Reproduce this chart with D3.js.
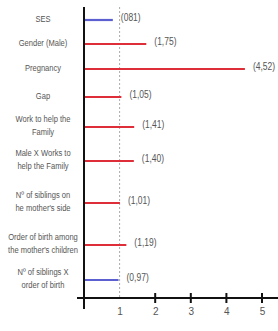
<!doctype html>
<html>
<head>
<script src="https://cdn.jsdelivr.net/npm/d3@7"></script>
<style>
  body { margin: 0; background: #fff; }
  svg { display: block; }
  text { font-family: "Liberation Sans", Arial, sans-serif; fill: #555; }
</style>
</head>
<body>
<svg width="278" height="331"></svg>
<script>
// predictors (labels split on "|" into lines)
var categories = ["SES", "Gender (Male)", "Pregnancy", "Gap", "Work to help the|Family",
  "Male X Works to|help the Family", "Nº of siblings on|he mother's side",
  "Order of birth among|the mother's children", "Nº of siblings X|order of birth"];
var oddsRatios = [0.81, 1.75, 4.52, 1.05, 1.41, 1.40, 1.01, 1.19, 0.97];
var valueLabels = ["(081)", "(1,75)", "(4,52)", "(1,05)", "(1,41)", "(1,40)", "(1,01)", "(1,19)", "(0,97)"];
var xTicks = [1, 2, 3, 4, 5];

var svg = d3.select("svg");

var x = d3.scaleLinear().domain([0, 5]).range([84, 262]);
// rows are not evenly spaced in the original
var y = d3.scaleOrdinal().domain(categories).range([20, 44, 69, 97, 127, 161, 203, 245, 280]);
var axisY = 298;

// reference line at 1
svg.append("line")
  .attr("x1", x(1)).attr("x2", x(1))
  .attr("y1", 7).attr("y2", axisY)
  .attr("stroke", "#aaa").attr("stroke-width", 1)
  .attr("stroke-dasharray", "2,2");

// bars
svg.selectAll("line.bar")
  .data(categories)
  .enter().append("line")
  .attr("class", "bar")
  .attr("x1", x(0))
  .attr("x2", (d, i) => x(oddsRatios[i]))
  .attr("y1", d => y(d)).attr("y2", d => y(d))
  .attr("stroke", (d, i) => oddsRatios[i] < 1 ? "#5b5fcf" : "#dd2e3a")
  .attr("stroke-width", 2.2);

// value labels (condensed look)
svg.selectAll("text.val")
  .data(categories)
  .enter().append("text")
  .attr("class", "val")
  .attr("transform", (d, i) => "translate(" + (x(oddsRatios[i]) + 8) + "," + (y(d) + 1) + ") scale(0.85,1)")
  .attr("font-size", 10)
  .text((d, i) => valueLabels[i]);

// category labels
var catG = svg.append("g").attr("transform", "translate(43,2) scale(0.84,1)");
catG.selectAll("text.cat")
  .data(categories)
  .enter().append("text")
  .attr("class", "cat")
  .attr("text-anchor", "middle")
  .attr("font-size", 9)
  .each(function(d) {
    var lines = d.split("|");
    var t = d3.select(this);
    var y0 = y(d) - (lines.length - 1) * 6.5;
    lines.forEach(function(l, k) {
      t.append("tspan").attr("x", 0).attr("y", y0 + k * 13).text(l);
    });
  });

// x axis
var xAxis = d3.axisBottom(x).tickValues(xTicks).tickSize(0).tickPadding(10).tickFormat(d3.format("d"));
var g = svg.append("g").attr("transform", "translate(0," + axisY + ")").call(xAxis);
g.select(".domain").remove();
g.selectAll("text").attr("font-size", 10).style("font-family", "Liberation Sans, sans-serif").attr("fill", "#555");
g.append("line").attr("x1", 77).attr("x2", 278).attr("stroke", "#111").attr("stroke-width", 2);
g.selectAll("line.tk")
  .data(xTicks.filter(v => v > 1))
  .enter().append("line").attr("class", "tk")
  .attr("x1", d => x(d)).attr("x2", d => x(d))
  .attr("y1", -5).attr("y2", 5)
  .attr("stroke", "#111").attr("stroke-width", 2);

// y axis
svg.append("line")
  .attr("x1", x(0)).attr("x2", x(0))
  .attr("y1", 7).attr("y2", 309)
  .attr("stroke", "#111").attr("stroke-width", 2);
</script>
</body>
</html>
